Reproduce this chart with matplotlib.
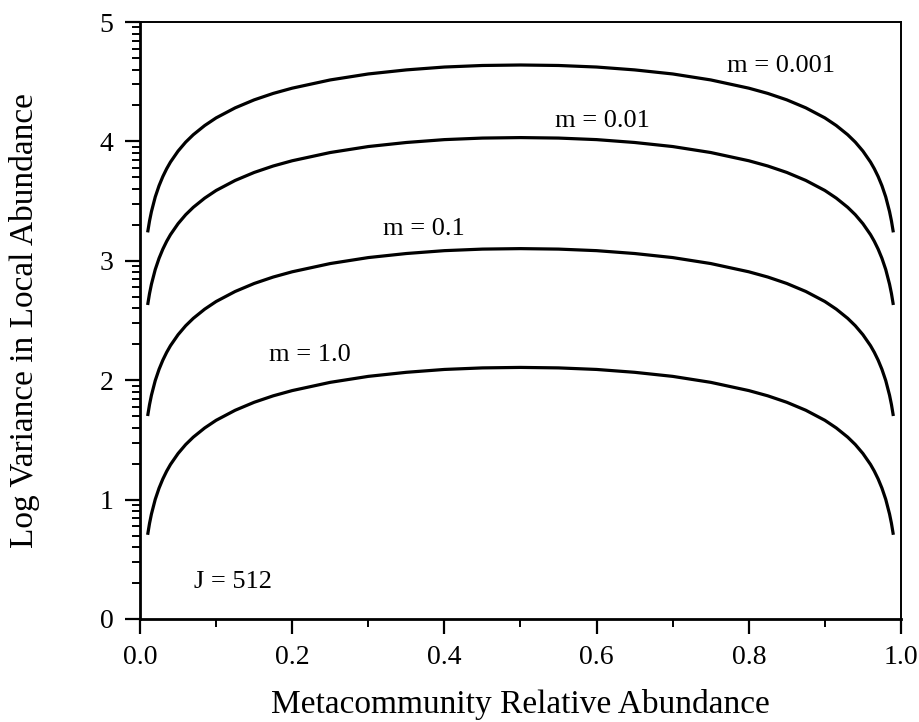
import matplotlib
matplotlib.use("Agg")
import matplotlib.pyplot as plt
import numpy as np

plt.rcParams['font.family'] = ['Liberation Serif', 'DejaVu Serif']

# Metacommunity relative abundance (x) values at which curves were read
x_vals = [0.01, 0.0125, 0.015, 0.02, 0.025, 0.03, 0.035, 0.04, 0.05, 0.06, 0.07,
          0.085, 0.10, 0.125, 0.15, 0.175, 0.20, 0.25, 0.30, 0.35, 0.40, 0.45, 0.50,
          0.55, 0.60, 0.65, 0.70, 0.75, 0.80, 0.825, 0.85, 0.875, 0.90, 0.915, 0.93,
          0.94, 0.95, 0.96, 0.965, 0.97, 0.975, 0.98, 0.985, 0.9875, 0.99]

# Log variance in local abundance for each migration rate m
y_m0001 = [3.238, 3.334, 3.412, 3.535, 3.629, 3.706, 3.771, 3.827, 3.919, 3.994, 4.056,
           4.133, 4.197, 4.281, 4.348, 4.402, 4.446, 4.515, 4.565, 4.599, 4.623, 4.636, 4.640,
           4.636, 4.623, 4.599, 4.565, 4.515, 4.446, 4.402, 4.348, 4.281, 4.197, 4.133, 4.056,
           3.994, 3.919, 3.827, 3.771, 3.706, 3.629, 3.535, 3.412, 3.334, 3.238]
y_m001 = [2.630, 2.726, 2.804, 2.927, 3.021, 3.098, 3.163, 3.219, 3.311, 3.386, 3.448,
          3.525, 3.589, 3.673, 3.740, 3.794, 3.838, 3.907, 3.957, 3.991, 4.015, 4.028, 4.032,
          4.028, 4.015, 3.991, 3.957, 3.907, 3.838, 3.794, 3.740, 3.673, 3.589, 3.525, 3.448,
          3.386, 3.311, 3.219, 3.163, 3.098, 3.021, 2.927, 2.804, 2.726, 2.630]
y_m01 = [1.700, 1.796, 1.874, 1.997, 2.091, 2.168, 2.233, 2.289, 2.381, 2.456, 2.518,
         2.595, 2.659, 2.743, 2.810, 2.864, 2.908, 2.977, 3.027, 3.061, 3.085, 3.098, 3.102,
         3.098, 3.085, 3.061, 3.027, 2.977, 2.908, 2.864, 2.810, 2.743, 2.659, 2.595, 2.518,
         2.456, 2.381, 2.289, 2.233, 2.168, 2.091, 1.997, 1.874, 1.796, 1.700]
y_m1 = [0.705, 0.801, 0.879, 1.002, 1.096, 1.173, 1.238, 1.294, 1.386, 1.461, 1.523,
        1.600, 1.664, 1.748, 1.815, 1.869, 1.913, 1.982, 2.032, 2.066, 2.090, 2.103, 2.107,
        2.103, 2.090, 2.066, 2.032, 1.982, 1.913, 1.869, 1.815, 1.748, 1.664, 1.600, 1.523,
        1.461, 1.386, 1.294, 1.238, 1.173, 1.096, 1.002, 0.879, 0.801, 0.705]

series = [y_m0001, y_m001, y_m01, y_m1]
labels = ["m = 0.001", "m = 0.01", "m = 0.1", "m = 1.0"]
label_pos = [(0.843, 4.63), (0.608, 4.17), (0.373, 3.27), (0.223, 2.21)]

x_ticks = [0.0, 0.2, 0.4, 0.6, 0.8, 1.0]
x_tick_labels = ["0.0", "0.2", "0.4", "0.6", "0.8", "1.0"]
y_ticks = [0, 1, 2, 3, 4, 5]

fig = plt.figure(figsize=(9.2, 7.22), dpi=100)
ax = fig.add_axes([0.1522, 0.1427, 0.8271, 0.8268])

for ys in series:
    ax.plot(x_vals, ys, color='black', lw=2.3, solid_capstyle='butt',
            solid_joinstyle='round')

fs = 19
for lab, (lx, ly) in zip(labels, label_pos):
    ax.text(lx, ly, lab, ha='center', va='center', fontsize=fs)
ax.text(0.122, 0.31, "J = 512", ha='center', va='center', fontsize=fs)

ax.set_xlim(0, 1)
ax.set_ylim(0, 5)
ax.set_xticks(x_ticks)
ax.set_xticklabels(x_tick_labels)
ax.set_xticks([0.1, 0.3, 0.5, 0.7, 0.9], minor=True)
ax.set_yticks(y_ticks)
minor_y = [i + np.log10(k) for i in range(5) for k in range(2, 10)]
ax.set_yticks(minor_y, minor=True)

ax.tick_params(axis='both', which='major', direction='out', length=11, width=1.6,
               labelsize=20, color='black')
ax.tick_params(axis='both', which='minor', direction='out', length=6, width=1.4)
ax.tick_params(axis='x', which='major', pad=8)
ax.tick_params(axis='y', which='major', pad=8)

for side in ['left', 'bottom']:
    ax.spines[side].set_linewidth(2.0)
for side in ['top', 'right']:
    ax.spines[side].set_linewidth(1.4)

ax.set_xlabel("Metacommunity Relative Abundance", fontsize=24)
ax.xaxis.set_label_coords(0.5, -0.144)
ax.xaxis.label.set_va('center')
ax.set_ylabel("Log Variance in Local Abundance", fontsize=24)
ax.yaxis.set_label_coords(-0.152, 0.5)
ax.yaxis.label.set_va('center')

fig.savefig("out.png", dpi=100)
